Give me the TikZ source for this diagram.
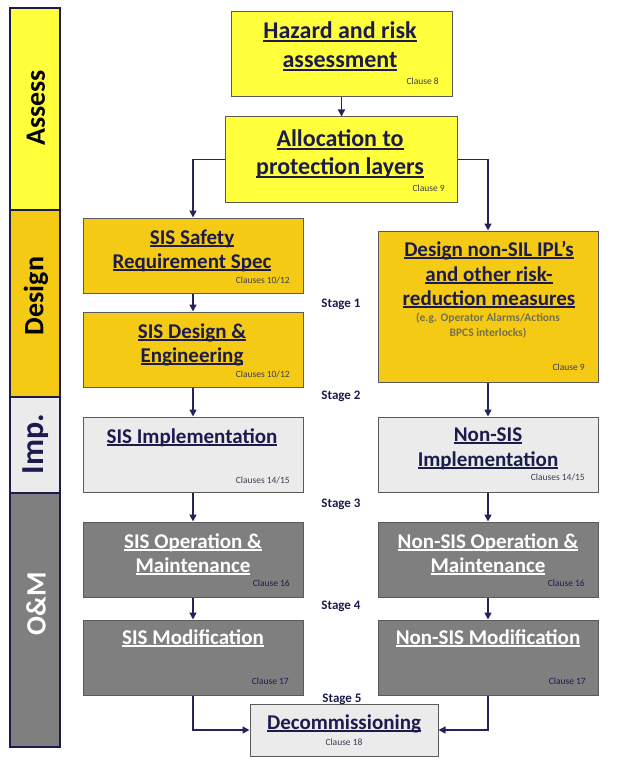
\documentclass[tikz,border=0pt]{standalone}
\usepackage{fontspec}
\setmainfont{Carlito}
\usetikzlibrary{arrows.meta}
\definecolor{ylw}{HTML}{FFFF3C}
\definecolor{gold}{HTML}{F5CA14}
\definecolor{lgray}{HTML}{EBEBEB}
\definecolor{dgray}{HTML}{7F7F7F}
\definecolor{navy}{HTML}{1B1B4D}
\definecolor{linec}{HTML}{23245C}
\definecolor{bord}{HTML}{5A5A5A}
\definecolor{cltxt}{HTML}{3C3C50}
\definecolor{notetxt}{HTML}{76704A}
\newcommand\ulx[1]{\setbox0\hbox{#1}\leavevmode\rlap{\rule[-3.4pt]{\wd0}{2pt}}\box0}
\tikzset{
  box/.style={draw=bord, line width=1pt, inner sep=0pt, rectangle},
  side/.style={draw=navy, line width=1.4pt, inner sep=0pt, rectangle, minimum width=50pt},
  sidetxt/.style={rotate=90, inner sep=0pt, font=\bfseries\fontsize{28}{30}\selectfont},
  bigt/.style={inner sep=0pt, anchor=base, text=navy, font=\bfseries\fontsize{24}{29}\selectfont},
  tt/.style={inner sep=0pt, anchor=base, text=navy, font=\bfseries\fontsize{21}{25}\selectfont},
  wt/.style={tt, text=white},
  clause/.style={inner sep=0pt, anchor=base east, text=cltxt, font=\fontsize{9.5}{11}\selectfont},
  note/.style={inner sep=0pt, anchor=base, text=notetxt, font=\bfseries\fontsize{11.5}{13}\selectfont},
  stagel/.style={inner sep=0pt, anchor=base, text=navy, font=\bfseries\fontsize{13}{15}\selectfont},
  arr/.style={draw=linec, line width=1.5pt, -{Triangle[length=7pt,width=7pt]}},
}
\begin{document}
\begin{tikzpicture}[x=1pt,y=-1pt]
\useasboundingbox (0,0) rectangle (623,762);
% sidebar
\node[side, fill=ylw, minimum height=202pt] (sa) at (35,109) {};
\node[side, fill=gold, minimum height=187pt] (sd) at (35,303.5) {};
\node[side, fill=lgray, minimum height=96pt] (si) at (35,445) {};
\node[side, fill=dgray, minimum height=254pt] (so) at (35,620) {};
\node[sidetxt, text=black] (saT) at (36,108) {Assess};
\node[sidetxt, text=black] (sdT) at (36,296) {Design};
\node[sidetxt, text=navy, font=\bfseries\fontsize{32}{34}\selectfont] (siT) at (36,444) {Imp.};
\node[sidetxt, text=white] (soT) at (36,604) {O\&M};
% boxes
\node[box, fill=ylw, minimum width=221pt, minimum height=85pt] (haz) at (341.5,54.5) {};
\node[box, fill=ylw, minimum width=232pt, minimum height=85pt] (alloc) at (341,159.5) {};
\node[box, fill=gold, minimum width=220pt, minimum height=75pt] (sss) at (193,255.5) {};
\node[box, fill=gold, minimum width=220pt, minimum height=75pt] (sde) at (193,349.5) {};
\node[box, fill=gold, minimum width=220pt, minimum height=151pt] (nsil) at (488,306.5) {};
\node[box, fill=lgray, minimum width=220pt, minimum height=75pt] (simp) at (193,454.5) {};
\node[box, fill=lgray, minimum width=220pt, minimum height=75pt] (nimp) at (488,454.5) {};
\node[box, fill=dgray, minimum width=220pt, minimum height=75pt] (sop) at (193,559.5) {};
\node[box, fill=dgray, minimum width=220pt, minimum height=75pt] (nop) at (488,559.5) {};
\node[box, fill=dgray, minimum width=220pt, minimum height=75pt] (smod) at (193,657.5) {};
\node[box, fill=dgray, minimum width=220pt, minimum height=75pt] (nmod) at (488,657.5) {};
\node[box, fill=lgray, minimum width=188pt, minimum height=52pt] (dec) at (344,730) {};
% texts
\node[bigt] (hazT1) at (340,38.5) {\ulx{Hazard and risk}};
\node[bigt] (hazT2) at (340,67.5) {\ulx{assessment}};
\node[clause] (hazC) at (439,84.5) {Clause 8};
\node[bigt] (allT1) at (340,146.5) {\ulx{Allocation to}};
\node[bigt] (allT2) at (340,174.5) {\ulx{protection layers}};
\node[clause] (allC) at (445,191.5) {Clause 9};
\node[tt] (sssT1) at (192,244) {\ulx{SIS Safety}};
\node[tt] (sssT2) at (192,268) {\ulx{Requirement Spec}};
\node[clause] (sssC) at (290,283.5) {Clauses 10/12};
\node[tt] (sdeT1) at (192,338) {\ulx{SIS Design \&}};
\node[tt] (sdeT2) at (192,362) {\ulx{Engineering}};
\node[clause] (sdeC) at (290,377.5) {Clauses 10/12};
\node[tt] (nsilT1) at (489,256) {\ulx{Design non-SIL IPL’s}};
\node[tt] (nsilT2) at (489,281) {\ulx{and other risk-}};
\node[tt] (nsilT3) at (489,305) {\ulx{reduction measures}};
\node[note] (nsilN1) at (488,321.5) {(e.g. Operator Alarms/Actions};
\node[note] (nsilN2) at (488,336.5) {BPCS interlocks)};
\node[clause] (nsilC) at (585,370.5) {Clause 9};
\node[tt] (simpT) at (192,443) {\ulx{SIS Implementation}};
\node[clause] (simpC) at (290,483.5) {Clauses 14/15};
\node[tt] (nimpT1) at (488,441) {\ulx{Non-SIS}};
\node[tt] (nimpT2) at (488,466) {\ulx{Implementation}};
\node[clause] (nimpC) at (585,480.5) {Clauses 14/15};
\node[wt] (sopT1) at (193,548) {\ulx{SIS Operation \&}};
\node[wt] (sopT2) at (193,572) {\ulx{Maintenance}};
\node[clause, text=navy] (sopC) at (290,586.5) {Clause 16};
\node[wt] (nopT1) at (488,548) {\ulx{Non-SIS Operation \&}};
\node[wt] (nopT2) at (488,572) {\ulx{Maintenance}};
\node[clause, text=navy] (nopC) at (585,586.5) {Clause 16};
\node[wt] (smodT) at (193,644) {\ulx{SIS Modification}};
\node[clause, text=navy] (smodC) at (289,684.5) {Clause 17};
\node[wt] (nmodT) at (488,644) {\ulx{Non-SIS Modification}};
\node[clause, text=navy] (nmodC) at (586,684.5) {Clause 17};
\node[tt] (decT) at (344,729) {\ulx{Decommissioning}};
\node[clause, anchor=base] (decC) at (344,745.5) {Clause 18};
% stages
\node[stagel] (st1) at (341,307) {Stage 1};
\node[stagel] (st2) at (341,399) {Stage 2};
\node[stagel] (st3) at (341,507) {Stage 3};
\node[stagel] (st4) at (341,609) {Stage 4};
\node[stagel] (st5) at (342,702) {Stage 5};
% connectors
\draw[arr] (haz.south) -- (haz.south |- alloc.north);
\draw[arr] (alloc.west) -| (sss.north);
\draw[arr] (alloc.east) -| (nsil.north);
\draw[arr] (sss.south) -- (sde.north);
\draw[arr] (sde.south) -- (simp.north);
\draw[arr] (simp.south) -- (sop.north);
\draw[arr] (sop.south) -- (smod.north);
\draw[arr] (nsil.south) -- (nimp.north);
\draw[arr] (nimp.south) -- (nop.north);
\draw[arr] (nop.south) -- (nmod.north);
\draw[arr] (smod.south) |- (dec.west);
\draw[arr] (nmod.south) |- (dec.east);
\end{tikzpicture}
\end{document}
